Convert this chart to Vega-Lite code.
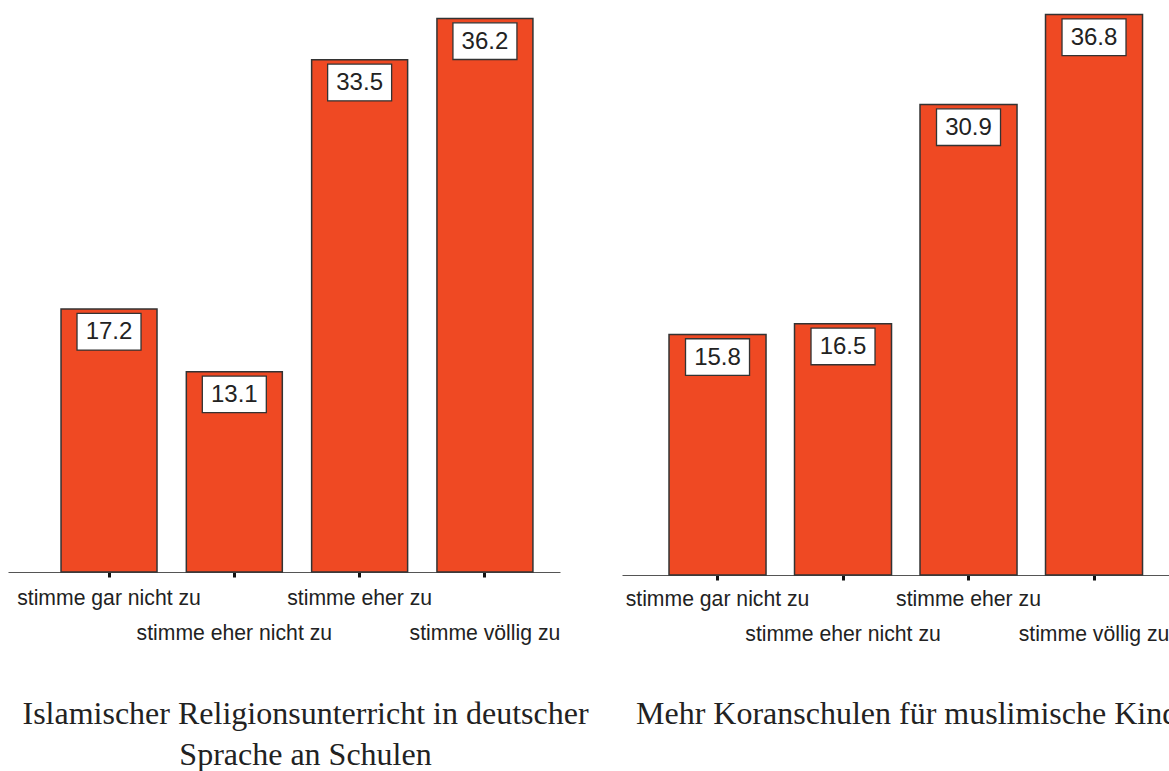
{
  "$schema": "https://vega.github.io/schema/vega-lite/v6.json",
  "background": "white",
  "padding": {"left": 8, "top": 5, "right": -30, "bottom": 1},
  "bounds": "flush",
  "spacing": 62,
  "config": {
    "view": {"stroke": null},
    "axisX": {
      "domainColor": "#555555",
      "domainWidth": 1,
      "tickColor": "#111111",
      "tickWidth": 3,
      "tickSize": 5,
      "grid": false,
      "labelFont": "Liberation Sans",
      "labelFontSize": 21.2,
      "labelColor": "#222222",
      "labelPadding": 10,
      "labelAngle": 0,
      "labelBaseline": "top",
      "labelLimit": 0,
      "labelOverlap": false,
      "labelLineHeight": 35,
      "labelExpr": "datum.label == 'stimme eher nicht zu' || datum.label == 'stimme völlig zu' ? ['', datum.label] : datum.label",
      "titleFont": "Liberation Serif",
      "titleFontSize": 32,
      "titleFontWeight": "normal",
      "titleColor": "#222222",
      "titleLineHeight": 41,
      "titleLimit": 1000
    }
  },
  "data": {
    "values": [
      {"panel": "L", "category": "stimme gar nicht zu", "value": 17.2},
      {"panel": "L", "category": "stimme eher nicht zu", "value": 13.1},
      {"panel": "L", "category": "stimme eher zu", "value": 33.5},
      {"panel": "L", "category": "stimme völlig zu", "value": 36.2},
      {"panel": "R", "category": "stimme gar nicht zu", "value": 15.8},
      {"panel": "R", "category": "stimme eher nicht zu", "value": 16.5},
      {"panel": "R", "category": "stimme eher zu", "value": 30.9},
      {"panel": "R", "category": "stimme völlig zu", "value": 36.8}
    ]
  },
  "hconcat": [
    {
      "width": 552,
      "height": 567,
      "transform": [{"filter": "datum.panel == 'L'"}],
      "encoding": {
        "x": {
          "field": "category",
          "type": "nominal",
          "sort": ["stimme gar nicht zu", "stimme eher nicht zu", "stimme eher zu", "stimme völlig zu"],
          "scale": {"paddingInner": 0.234, "paddingOuter": 0.3196, "align": 0.662},
          "axis": {
            "title": ["Islamischer Religionsunterricht in deutscher", "Sprache an Schulen"],
            "titleX": 297,
            "titleY": 126
          }
        },
        "y": {
          "field": "value",
          "type": "quantitative",
          "scale": {"domain": [0, 37.08], "nice": false, "zero": true},
          "axis": null
        }
      },
      "layer": [
        {"mark": {"type": "bar", "fill": "#EF4923", "stroke": "#333333", "strokeWidth": 1.5}},
        {"mark": {"type": "point", "shape": "M-1,-0.573L1,-0.573L1,0.573L-1,0.573Z", "size": 4096, "filled": true, "fill": "white", "stroke": "#333333", "strokeWidth": 1.3, "opacity": 1, "fillOpacity": 1, "strokeOpacity": 1, "yOffset": 22.7}},
        {"mark": {"type": "text", "font": "Liberation Sans", "fontSize": 24, "baseline": "middle", "align": "center", "color": "#222222", "yOffset": 23.5},
         "encoding": {"text": {"field": "value", "type": "quantitative", "format": ".1f"}}}
      ]
    },
    {
      "width": 552,
      "height": 570,
      "transform": [{"filter": "datum.panel == 'R'"}],
      "encoding": {
        "x": {
          "field": "category",
          "type": "nominal",
          "sort": ["stimme gar nicht zu", "stimme eher nicht zu", "stimme eher zu", "stimme völlig zu"],
          "scale": {"paddingInner": 0.227, "paddingOuter": 0.3127, "align": 0.599},
          "axis": {
            "title": "Mehr Koranschulen für muslimische Kinder",
            "titleX": 297,
            "titleY": 123,
            "labelPadding": 8
          }
        },
        "y": {
          "field": "value",
          "type": "quantitative",
          "scale": {"domain": [0, 37.43], "nice": false, "zero": true},
          "axis": null
        }
      },
      "layer": [
        {"mark": {"type": "bar", "fill": "#EF4923", "stroke": "#333333", "strokeWidth": 1.5}},
        {"mark": {"type": "point", "shape": "M-1,-0.573L1,-0.573L1,0.573L-1,0.573Z", "size": 4096, "filled": true, "fill": "white", "stroke": "#333333", "strokeWidth": 1.3, "opacity": 1, "fillOpacity": 1, "strokeOpacity": 1, "yOffset": 22.7}},
        {"mark": {"type": "text", "font": "Liberation Sans", "fontSize": 24, "baseline": "middle", "align": "center", "color": "#222222", "yOffset": 23.5},
         "encoding": {"text": {"field": "value", "type": "quantitative", "format": ".1f"}}}
      ]
    }
  ]
}
